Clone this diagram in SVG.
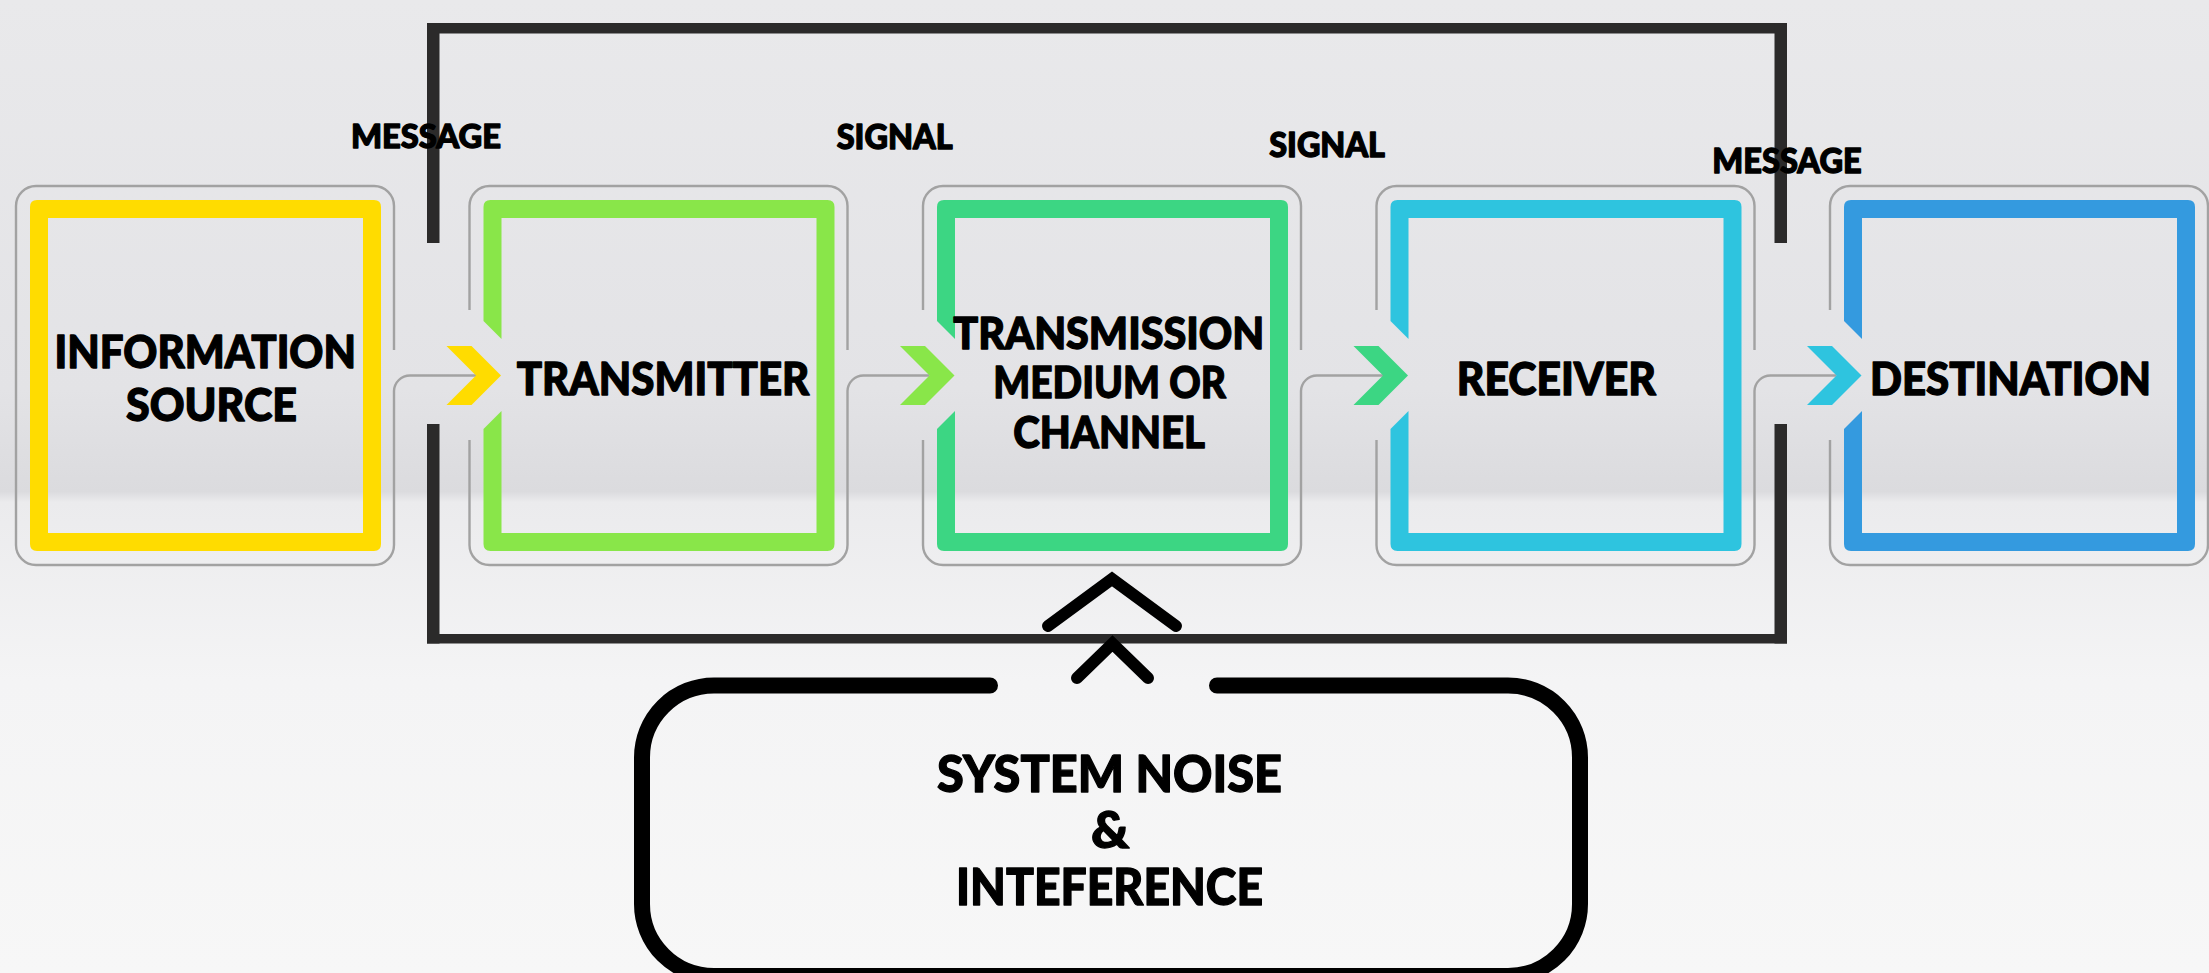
<svg xmlns="http://www.w3.org/2000/svg" xmlns:xlink="http://www.w3.org/1999/xlink" width="2209" height="973" viewBox="0 0 2209 973">
  <defs>
    <linearGradient id="bg" x1="0" y1="0" x2="0" y2="1">
      <stop offset="0" stop-color="#e9e9eb"/>
      <stop offset="0.40" stop-color="#e3e3e6"/>
      <stop offset="0.505" stop-color="#dbdbde"/>
      <stop offset="0.516" stop-color="#ebebed"/>
      <stop offset="0.7" stop-color="#f4f4f5"/>
      <stop offset="1" stop-color="#f7f7f7"/>
    </linearGradient>
    <!-- coloured frame, local coords: outer 0..351 x 200..551, bar 18 wide -->
    <path id="frame" fill-rule="evenodd" d="M7,200 H344 Q351,200 351,207 V544 Q351,551 344,551 H7 Q0,551 0,544 V207 Q0,200 7,200 Z M18,218 V533 H333 V218 Z"/>
    <!-- same frame with the left bar cut open for the incoming chevron -->
    <path id="frameNotched" d="M18,339 L0,321 V207 Q0,200 7,200 H344 Q351,200 351,207 V544 Q351,551 344,551 H7 Q0,551 0,544 V429 L18,411 V533 H333 V218 H18 Z"/>
    <!-- chevron arrowhead, local to the box it points into -->
    <polygon id="chev" points="-37,346 -12,346 17.5,375.5 -12,405 -37,405 -7.5,375.5"/>
  </defs>
  <style>
    .lbl { font-family: "Lato", "Liberation Sans", sans-serif; font-weight: 900; fill: #000; stroke: #000; stroke-width: 1.3; stroke-linejoin: round; }
    .halo { fill: none; stroke: #a2a2a2; stroke-width: 2.4; stroke-linecap: butt; }
    .bar { fill: #2b2a2a; }
    .noise { fill: none; stroke: #000; stroke-width: 16; stroke-linecap: round; }
    .up { fill: none; stroke: #000; stroke-width: 12; stroke-linecap: round; stroke-linejoin: miter; }
  </style>

  <rect width="2209" height="973" fill="url(#bg)"/>

  <!-- feedback frame around the transmission chain -->
  <g id="system-frame">
    <rect class="bar" x="427" y="23" width="1360" height="10.5"/>
    <rect class="bar" x="427" y="23" width="12.5" height="220"/>
    <rect class="bar" x="427" y="424" width="12.5" height="219.5"/>
    <rect class="bar" x="1774.5" y="23" width="12.5" height="220"/>
    <rect class="bar" x="1774.5" y="424" width="12.5" height="219.5"/>
    <rect class="bar" x="427" y="634" width="1360" height="9.5"/>
  </g>

  <!-- nodes -->
  <g id="information-source">
    <path class="halo" d="M16,375 V206 A20,20 0 0 1 36,186 H374 A20,20 0 0 1 394,206 V350 M16,375 V545 A20,20 0 0 0 36,565 H374 A20,20 0 0 0 394,545"/>
    <use xlink:href="#frame" href="#frame" x="30" fill="#ffdc00"/>
    <text class="lbl" x="54.5" y="368.3" font-size="45" textLength="301.5" lengthAdjust="spacingAndGlyphs">INFORMATION</text>
    <text class="lbl" x="126" y="420.7" font-size="45" textLength="171" lengthAdjust="spacingAndGlyphs">SOURCE</text>
  </g>

  <g id="transmitter">
    <path class="halo" d="M469.5,310 V206 A20,20 0 0 1 489.5,186 H827.5 A20,20 0 0 1 847.5,206 V350 M469.5,440 V545 A20,20 0 0 0 489.5,565 H827.5 A20,20 0 0 0 847.5,545"/>
    <use xlink:href="#frameNotched" href="#frameNotched" x="483.5" fill="#89e649"/>
    <text class="lbl" x="516.7" y="395" font-size="45" textLength="292.7" lengthAdjust="spacingAndGlyphs">TRANSMITTER</text>
  </g>

  <g id="channel">
    <path class="halo" d="M923,310 V206 A20,20 0 0 1 943,186 H1281 A20,20 0 0 1 1301,206 V350 M923,440 V545 A20,20 0 0 0 943,565 H1281 A20,20 0 0 0 1301,545"/>
    <use xlink:href="#frameNotched" href="#frameNotched" x="937" fill="#3cd683"/>
    <text class="lbl" x="953.3" y="349.3" font-size="43.5" textLength="311" lengthAdjust="spacingAndGlyphs">TRANSMISSION</text>
    <text class="lbl" x="993.3" y="398.3" font-size="43.5" textLength="232.7" lengthAdjust="spacingAndGlyphs">MEDIUM OR</text>
    <text class="lbl" x="1013.3" y="447.7" font-size="43.5" textLength="191.7" lengthAdjust="spacingAndGlyphs">CHANNEL</text>
  </g>

  <g id="receiver">
    <path class="halo" d="M1376.5,310 V206 A20,20 0 0 1 1396.5,186 H1734.5 A20,20 0 0 1 1754.5,206 V350 M1376.5,440 V545 A20,20 0 0 0 1396.5,565 H1734.5 A20,20 0 0 0 1754.5,545"/>
    <use xlink:href="#frameNotched" href="#frameNotched" x="1390.5" fill="#2ec4df"/>
    <text class="lbl" x="1456.7" y="395" font-size="45.5" textLength="199.3" lengthAdjust="spacingAndGlyphs">RECEIVER</text>
  </g>

  <g id="destination">
    <path class="halo" d="M1830,310 V206 A20,20 0 0 1 1850,186 H2188 A20,20 0 0 1 2208,206 V545 A20,20 0 0 1 2188,565 H1850 A20,20 0 0 1 1830,545 V440"/>
    <use xlink:href="#frameNotched" href="#frameNotched" x="1844" fill="#349adf"/>
    <text class="lbl" x="1870" y="395" font-size="45.5" textLength="281" lengthAdjust="spacingAndGlyphs">DESTINATION</text>
  </g>

  <g id="noise-source">
    <path class="noise" d="M990,685.5 H714 A72,72 0 0 0 642,757.5 V904 A72,72 0 0 0 714,976 H1508 A72,72 0 0 0 1580,904 V757.5 A72,72 0 0 0 1508,685.5 H1217"/>
    <text class="lbl" x="937" y="791.7" font-size="51" textLength="345" lengthAdjust="spacingAndGlyphs">SYSTEM NOISE</text>
    <text class="lbl" x="1091" y="848" font-size="51" textLength="38.3" lengthAdjust="spacingAndGlyphs">&amp;</text>
    <text class="lbl" x="956" y="905" font-size="51" textLength="307" lengthAdjust="spacingAndGlyphs">INTEFERENCE</text>
  </g>

  <!-- connectors: halo lines feeding each chevron, plus the noise arrows -->
  <g id="connectors">
    <path class="halo" d="M394,545 V391 A16,16 0 0 1 410,375.5 H476"/>
    <path class="halo" d="M847.5,545 V391 A16,16 0 0 1 863.5,375.5 H929.5"/>
    <path class="halo" d="M1301,545 V391 A16,16 0 0 1 1317,375.5 H1383"/>
    <path class="halo" d="M1754.5,545 V391 A16,16 0 0 1 1770.5,375.5 H1836.5"/>
    <use xlink:href="#chev" href="#chev" x="483.5" fill="#ffdc00"/>
    <use xlink:href="#chev" href="#chev" x="937" fill="#89e649"/>
    <use xlink:href="#chev" href="#chev" x="1390.5" fill="#3cd683"/>
    <use xlink:href="#chev" href="#chev" x="1844" fill="#2ec4df"/>
    <polyline class="up" points="1048,626 1112,579 1176,626"/>
    <polyline class="up" points="1077,678 1112.5,643.5 1148,678"/>
    <text class="lbl" x="351" y="148.3" font-size="32.5" textLength="150" lengthAdjust="spacingAndGlyphs">MESSAGE</text>
    <text class="lbl" x="836.7" y="149.3" font-size="33.5" textLength="116" lengthAdjust="spacingAndGlyphs">SIGNAL</text>
    <text class="lbl" x="1269.3" y="156.7" font-size="33.5" textLength="115.7" lengthAdjust="spacingAndGlyphs">SIGNAL</text>
    <text class="lbl" x="1712.3" y="172.7" font-size="33.5" textLength="149.4" lengthAdjust="spacingAndGlyphs">MESSAGE</text>
  </g>
</svg>
